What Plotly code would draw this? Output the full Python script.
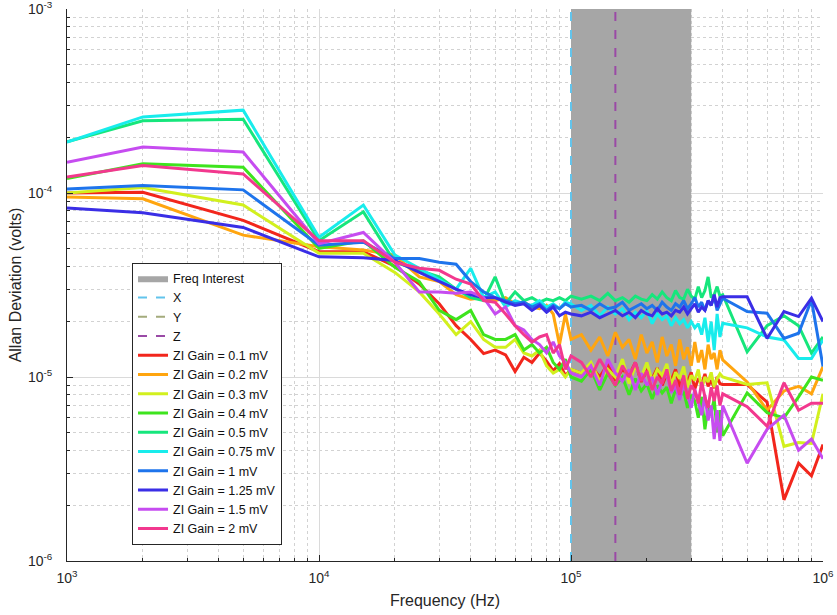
import numpy as np
import plotly.graph_objects as go

# ---------------- data ----------------
freq_hz = [1000, 2000, 5000, 10000,
           15000, 20000, 25000, 30000, 35000, 40000, 45000, 50000, 55000, 60000,
           65000, 70000, 75000, 80000, 85000, 90000, 95000, 100000,
           110000, 120000, 130000, 140000, 150000, 160000, 170000, 180000, 190000, 200000,
           210000, 220000, 230000, 240000, 250000, 260000, 270000, 280000, 290000, 300000,
           310000, 320000, 330000, 340000, 350000, 360000, 370000, 380000, 390000, 400000,
           500000, 600000, 700000, 800000, 900000, 1000000]

# Allan deviation values in microvolts
gain_01_uV = [100, 101, 71, 48,
              48, 40, 32, 25, 19, 16, 13.4, 14, 13.2, 10.7, 12.8, 12, 13.5, 12.2, 10.8, 11.8, 10.2, 11,
              10.5, 11.5, 10, 11.8, 9.6, 11, 10.2, 12, 9.4, 10.8, 9.8, 11.2, 9, 10.4, 9.6, 11, 8.8, 10, 9.4, 10.6,
              8.6, 9.8, 9.2, 10.4, 8.9, 9.6, 8.7, 10, 9.2, 9.1,
              9.1, 7.3, 2.15, 3.4, 2.9, 4.3]
gain_02_uV = [95, 93, 59, 51,
              49, 46, 35, 33, 28, 26.5, 27, 26, 27, 25, 25.5, 24, 23.5, 24.5, 22, 15, 22, 16,
              17, 14, 16.5, 13, 17.5, 14.5, 16, 12.5, 17, 13.5, 15.5, 12, 16.5, 13, 15, 11.5, 16, 12.5, 14.5, 11.5,
              15.5, 12, 14, 11, 15, 12.5, 13.5, 11, 14, 12.4,
              9.4, 6.6, 8.4, 8.9, 8.1, 11.4]
gain_03_uV = [100, 107, 86, 47,
              47, 37, 29, 22, 17, 20, 16, 14.5, 14.5, 16, 13.5, 13, 14, 11.5, 10.5, 11, 10, 11,
              10.5, 12, 9.5, 11, 10, 12.5, 9.2, 11.5, 10, 12, 9.5, 11, 10.2, 11.8, 9, 10.6, 9.8, 11.4, 8.8, 10.2,
              9.6, 11, 8.6, 10, 9.4, 10.6, 8.8, 9.8, 10.4, 10,
              9.1, 9.3, 4.2, 4.4, 4.35, 8.1]
gain_04_uV = [120, 144, 138, 50,
              55, 39.5, 33, 23, 20.5, 23, 17, 16, 16, 17, 14, 15, 13.5, 14.5, 12, 11, 12.5, 10,
              9.5, 11, 8.5, 10.5, 9, 10, 8, 9.8, 8.4, 9.2, 7.6, 9, 8.2, 8.8, 7.2, 8.6, 7.8, 8.4, 6.8, 8,
              7.4, 6, 7.8, 5.2, 7, 6.4, 7.6, 5, 6.6, 4.8,
              8.2, 6.4, 6.0, 7.8, 10, 9.6]
gain_05_uV = [190, 247, 252, 55,
              79, 42, 38, 35, 30, 27, 26, 35, 25, 29, 26, 27, 25.5, 26.5, 26, 27, 26, 27.5,
              26.5, 27.5, 26, 28.5, 26, 27, 25.5, 27.5, 26.5, 26, 28, 26.5, 29, 27, 26, 29.5, 27, 26.5, 30, 27.5,
              26.5, 31, 27, 29.5, 35, 27, 28, 31, 27.5, 28,
              13.7, 19, 21.5, 19, 13.5, 16.5]
gain_075_uV = [189, 259, 282, 57.5,
               86, 46, 39, 34, 30, 39, 27, 29, 24, 26, 25, 24.5, 26, 24, 25, 23.5, 25.5, 25,
               23, 24.5, 21.5, 24, 22, 23.5, 20.5, 22.5, 21, 23, 19.5, 22, 20.5, 21.5, 19, 21, 19.5, 20.5, 18.5, 20,
               18.5, 19.5, 17, 21, 15.5, 20, 14, 22, 16.5, 19.6,
               18.5, 16.5, 15.9, 12.6, 12.6, 15.9]
gain_1_uV = [105, 110, 104, 52,
             54, 44, 44, 42, 41, 33, 29, 27, 26, 25, 25.5, 24, 25, 23, 24.5, 23.5, 25, 24,
             24.5, 23, 25, 23.5, 24, 25.5, 23, 24, 25, 23.5, 24.5, 23, 25.5, 24, 23, 25, 24, 26, 23.5, 25,
             27, 24, 25.5, 23, 26, 24.5, 27.5, 23, 25, 26.8,
             22.7, 22.2, 16.2, 17.3, 26.2, 11.4]
gain_125_uV = [83, 78, 65, 45,
               44.5, 43, 37, 33, 30, 28, 27, 27, 25.5, 24.5, 25, 23, 24.5, 22.5, 24, 21.5, 22.5, 22,
               21.5, 22.5, 21, 22, 23, 21.5, 22.5, 21, 23, 22, 21.5, 23.5, 22, 22.5, 21.5, 23, 22.5, 24, 22, 23.5,
               25, 22.5, 24, 23, 26, 24.5, 28, 24, 27, 27.3,
               27.3, 16.2, 22.7, 21.3, 26.8, 20]
gain_15_uV = [147, 178, 167, 53,
              61, 42, 29, 29, 28.5, 29, 27, 22, 24, 19, 18, 16, 15, 13.5, 15.5, 13, 12, 10.5,
              10, 11.5, 9, 12.5, 10.5, 9.5, 11, 8.5, 10.5, 9, 10, 8, 9.5, 10.5, 8.2, 9, 7.5, 9.2, 8, 6.8,
              8.6, 7.2, 6.2, 8, 5.8, 7, 4.6, 6.6, 4.5, 7,
              3.4, 5.2, 6.2, 4.0, 4.6, 3.6]
gain_2_uV = [122, 141, 127, 55,
             55, 42, 39, 38, 34, 32, 26, 25.5, 22, 19, 17, 15.5, 16.5, 17, 13.5, 15, 11, 13,
             12, 10, 12.5, 10.5, 9, 11.5, 10, 12, 9.5, 10.8, 8.5, 10, 9.2, 11, 8.4, 9.6, 8, 10.2, 7.6, 9,
             8.4, 7.2, 9.4, 7.8, 6.8, 8.8, 7.4, 9, 7, 8.1,
             6.9, 5.4, 9.3, 6.6, 7.2, 7.2]

series_names = ["ZI Gain = 0.1 mV", "ZI Gain = 0.2 mV", "ZI Gain = 0.3 mV", "ZI Gain = 0.4 mV",
                "ZI Gain = 0.5 mV", "ZI Gain = 0.75 mV", "ZI Gain = 1 mV", "ZI Gain = 1.25 mV",
                "ZI Gain = 1.5 mV", "ZI Gain = 2 mV"]
series_values = [gain_01_uV, gain_02_uV, gain_03_uV, gain_04_uV, gain_05_uV,
                 gain_075_uV, gain_1_uV, gain_125_uV, gain_15_uV, gain_2_uV]
series_colors = ["#f2261c", "#ffa50f", "#d2f01e", "#3ee41e", "#16e67c",
                 "#18ecec", "#1e74ec", "#3a2ee6", "#c64cf0", "#f2388e"]

band_lo_hz = 100000
band_hi_hz = 300000
x_marker_hz = 100000
y_marker_hz = 100000
z_marker_hz = 150000
y_min, y_max = 1e-6, 1e-3

x_tickvals = [1e3, 1e4, 1e5, 1e6]
x_ticktext = ["10<sup>3</sup>", "10<sup>4</sup>", "10<sup>5</sup>", "10<sup>6</sup>"]
y_tickvals = [1e-6, 1e-5, 1e-4, 1e-3]
y_ticktext = ["10<sup>-6</sup>", "10<sup>-5</sup>", "10<sup>-4</sup>", "10<sup>-3</sup>"]

# ---------------- figure ----------------
fig = go.Figure()

fig.add_trace(go.Scatter(
    x=[band_lo_hz, band_hi_hz, band_hi_hz, band_lo_hz, band_lo_hz],
    y=[y_min, y_min, y_max, y_max, y_min],
    fill="toself", fillcolor="#a6a6a6", mode="lines",
    line=dict(width=0, color="#a6a6a6"), name="Freq Interest", hoverinfo="skip",
    legendrank=1))

# drawing order Y, X, Z (X sits on top of Y at the band edge); legend order X, Y, Z
marker_defs = [("Y", y_marker_hz, "#a4ab7c", 3), ("X", x_marker_hz, "#62c4ec", 2),
               ("Z", z_marker_hz, "#9a4aa6", 4)]
for name, xv, col, rank in marker_defs:
    fig.add_trace(go.Scatter(
        x=[xv, xv], y=[y_min, y_max], mode="lines", name=name,
        line=dict(color=col, width=2, dash="dash"), legendrank=rank,
        hoverinfo="skip"))

freq = np.array(freq_hz, dtype=float)
for i, (name, vals, col) in enumerate(zip(series_names, series_values, series_colors)):
    fig.add_trace(go.Scatter(
        x=freq, y=np.array(vals) * 1e-6, mode="lines", name=name,
        line=dict(color=col, width=3), legendrank=10 + i))

fam = "Liberation Sans, Arial, sans-serif"
axis_font = dict(family=fam, size=14, color="#262626")

common = dict(
    ticks="inside", ticklen=6, tickcolor="#262626", tickwidth=1,
    showline=True, linecolor="#262626", linewidth=1,
    showgrid=True, gridcolor="#dadada", gridwidth=1,
    minor=dict(dtick="D1", ticks="inside", ticklen=3, tickcolor="#262626",
               showgrid=True, gridcolor="#d2d2d2", griddash="dot"),
    tickfont=axis_font, zeroline=False, automargin=False,
    ticklabeloverflow="allow")

fig.update_xaxes(
    type="log", range=[3, 6], tickvals=x_tickvals, ticktext=x_ticktext,
    ticklabelstandoff=4,
    title=dict(text="Frequency (Hz)", font=dict(family=fam, size=16, color="#262626"), standoff=10),
    **common)

fig.update_yaxes(
    type="log", range=[-6, -3], tickvals=y_tickvals, ticktext=y_ticktext,
    ticklabelstandoff=11,
    title=dict(text="Allan Deviation (volts)", font=dict(family=fam, size=16, color="#262626"),
               standoff=2),
    **common)

fig.update_layout(
    width=837, height=615,
    margin=dict(l=67, r=14, t=9, b=54, autoexpand=False),
    paper_bgcolor="white", plot_bgcolor="white",
    showlegend=True,
    legend=dict(x=0.086, y=0.2853, xanchor="left", yanchor="middle",
                bgcolor="white", bordercolor="#262626", borderwidth=1,
                font=dict(family=fam, size=12.5, color="#111111"),
                tracegroupgap=0, itemwidth=30),
)

fig.write_html("out.html", config={"displayModeBar": False},
               post_script="document.body.style.margin='0';")
